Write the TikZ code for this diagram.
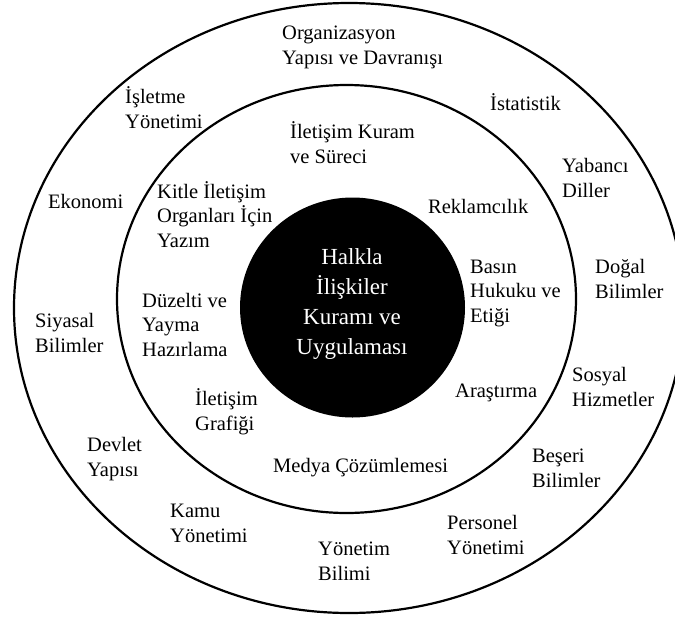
\documentclass[tikz,border=0pt]{standalone}
\usepackage{fontspec}
\setmainfont{Liberation Serif}
\begin{document}
\begin{tikzpicture}[x=1pt,y=-1pt,
  ring/.style={draw=black, line width=2.2pt},
  lab/.style={anchor=base west, align=left, inner sep=0pt, font=\fontsize{20.5}{24.5}\selectfont},
  core/.style={anchor=base, align=center, inner sep=0pt, text=white, font=\fontsize{23}{30}\selectfont}]
\useasboundingbox (0,0) rectangle (675,619);
% rings (anchor base = baseline of the last line)
\draw[ring] (349,308) ellipse [x radius=335pt, y radius=305pt];
\draw[ring] (346.5,299) ellipse [x radius=229.5pt, y radius=214pt];
\fill[black] (352.5,307.5) ellipse [x radius=112.5pt, y radius=110pt];
% centre
\node[core] (core) at (352,354) {Halkla\\İlişkiler\\Kuramı ve\\Uygulaması};
% middle ring labels
\node[lab] (ilk) at (290,163) {İletişim Kuram\\ve Süreci};
\node[lab] (kit) at (157,247) {Kitle İletişim\\Organları İçin\\Yazım};
\node[lab] (rek) at (428,213) {Reklamcılık};
\node[lab] (bas) at (470,322) {Basın\\Hukuku ve\\Etiği};
\node[lab] (duz) at (142,356) {Düzelti ve\\Yayma\\Hazırlama};
\node[lab] (ara) at (455,397) {Araştırma};
\node[lab] (ilg) at (195,430) {İletişim\\Grafiği};
\node[lab] (med) at (273,472) {Medya Çözümlemesi};
% outer ring labels
\node[lab] (org) at (282,64) {Organizasyon\\Yapısı ve Davranışı};
\node[lab] (isl) at (125,128) {İşletme\\Yönetimi};
\node[lab] (ist) at (490,110) {İstatistik};
\node[lab] (yab) at (562,197) {Yabancı\\Diller};
\node[lab] (eko) at (48,208) {Ekonomi};
\node[lab] (dog) at (595,298) {Doğal\\Bilimler};
\node[lab] (siy) at (35,352) {Siyasal\\Bilimler};
\node[lab] (sos) at (572,406) {Sosyal\\Hizmetler};
\node[lab] (dev) at (87,476) {Devlet\\Yapısı};
\node[lab] (bes) at (532,487) {Beşeri\\Bilimler};
\node[lab] (kam) at (170,542) {Kamu\\Yönetimi};
\node[lab] (per) at (447,554) {Personel\\Yönetimi};
\node[lab] (ybl) at (318,580) {Yönetim\\Bilimi};
\end{tikzpicture}
\end{document}
